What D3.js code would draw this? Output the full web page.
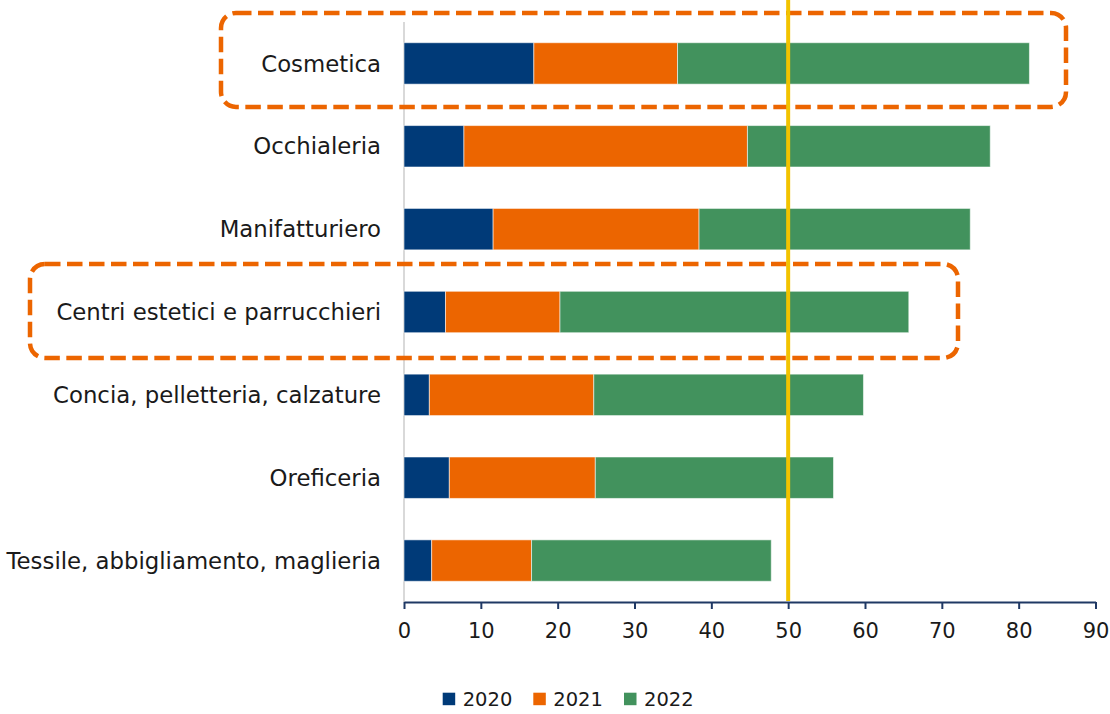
<!DOCTYPE html>
<html>
<head>
<meta charset="utf-8">
<script src="https://cdn.jsdelivr.net/npm/d3@7"></script>
<style>
  html, body { margin: 0; padding: 0; background: #fff; }
  svg { display: block; font-family: "DejaVu Sans", sans-serif; }
</style>
</head>
<body>
<svg id="chart" width="1110" height="714"></svg>
<script>
// Sectors, top to bottom
const categories = [
  "Cosmetica",
  "Occhialeria",
  "Manifatturiero",
  "Centri estetici e parrucchieri",
  "Concia, pelletteria, calzature",
  "Oreficeria",
  "Tessile, abbigliamento, maglieria"
];
// Stacked contributions per year
const years = ["2020", "2021", "2022"];
const values2020 = [16.9, 7.8, 11.6, 5.4, 3.3, 5.9, 3.6];
const values2021 = [18.7, 36.9, 26.8, 14.9, 21.4, 19.0, 13.0];
const values2022 = [45.8, 31.6, 35.3, 45.4, 35.1, 31.0, 31.2];
const xTicks = [0, 10, 20, 30, 40, 50, 60, 70, 80, 90];
const referenceValue = 50;
const highlighted = ["Cosmetica", "Centri estetici e parrucchieri"];

const colors = { "2020": "#003a78", "2021": "#ec6500", "2022": "#42925d" };

const svg = d3.select("#chart");

const x = d3.scaleLinear().domain([0, 90]).range([404, 1095.5]);
const y = d3.scaleBand().domain(categories).range([22, 602])
  .paddingInner(0.5).paddingOuter(0.25);

const rows = categories.map((c, i) => ({
  category: c, "2020": values2020[i], "2021": values2021[i], "2022": values2022[i]
}));
const stacked = d3.stack().keys(years)(rows);

// light vertical baseline at zero
svg.append("line")
  .attr("x1", x(0)).attr("x2", x(0))
  .attr("y1", 22).attr("y2", 602)
  .attr("stroke", "#d9d9d9").attr("stroke-width", 2);

// bars
svg.append("g").selectAll("g").data(stacked).join("g")
  .attr("fill", d => colors[d.key])
  .selectAll("rect").data(d => d).join("rect")
  .attr("x", d => x(d[0]))
  .attr("y", d => y(d.data.category))
  .attr("width", d => x(d[1]) - x(d[0]))
  .attr("height", y.bandwidth())
  .attr("stroke", "rgba(255,255,255,0.55)")
  .attr("stroke-width", 1);

// category labels
svg.append("g").selectAll("text").data(categories).join("text")
  .attr("x", 381)
  .attr("y", d => y(d) + y.bandwidth() / 2)
  .attr("dy", "0.36em")
  .attr("text-anchor", "end")
  .attr("font-size", 22.8)
  .attr("fill", "#1a1a1a")
  .text(d => d);

// dashed highlight frames around selected sectors
const frames = [
  { category: highlighted[0], left: 221, right: 1066, shift: -3.5 },
  { category: highlighted[1], left: 30, right: 958, shift: -1 }
];
svg.append("g").selectAll("rect").data(frames).join("rect")
  .attr("x", d => d.left)
  .attr("y", d => y(d.category) + y.bandwidth() / 2 - 47 + d.shift)
  .attr("width", d => d.right - d.left)
  .attr("height", 94)
  .attr("rx", 15).attr("ry", 15)
  .attr("fill", "none")
  .attr("stroke", "#ec6500")
  .attr("stroke-width", 4.5)
  .attr("stroke-dasharray", "15.5 6.5");

// reference line at 50
svg.append("line")
  .attr("x1", x(referenceValue)).attr("x2", x(referenceValue))
  .attr("y1", 0).attr("y2", 601)
  .attr("stroke", "#f2c300").attr("stroke-width", 4);

// x axis
const axis = svg.append("g")
  .attr("transform", "translate(0,602)")
  .call(d3.axisBottom(x).tickValues(xTicks).tickSize(7).tickSizeOuter(0).tickPadding(14));
axis.select(".domain").attr("stroke", "#1f3864").attr("stroke-width", 2);
axis.selectAll(".tick line").attr("stroke", "#1f3864").attr("stroke-width", 2);
axis.selectAll(".tick text")
  .attr("font-family", "DejaVu Sans, sans-serif")
  .attr("font-size", 21)
  .attr("fill", "#1a1a1a");

// legend
const legendX = [442.7, 533.3, 624];
const legend = svg.append("g").selectAll("g").data(years).join("g")
  .attr("transform", (d, i) => `translate(${legendX[i]},692.7)`);
legend.append("rect").attr("width", 12.5).attr("height", 12.5).attr("fill", d => colors[d]);
legend.append("text")
  .attr("x", 20).attr("y", 6.5).attr("dy", "0.35em")
  .attr("font-size", 19.5).attr("fill", "#1a1a1a")
  .text(d => d);
</script>
</body>
</html>
